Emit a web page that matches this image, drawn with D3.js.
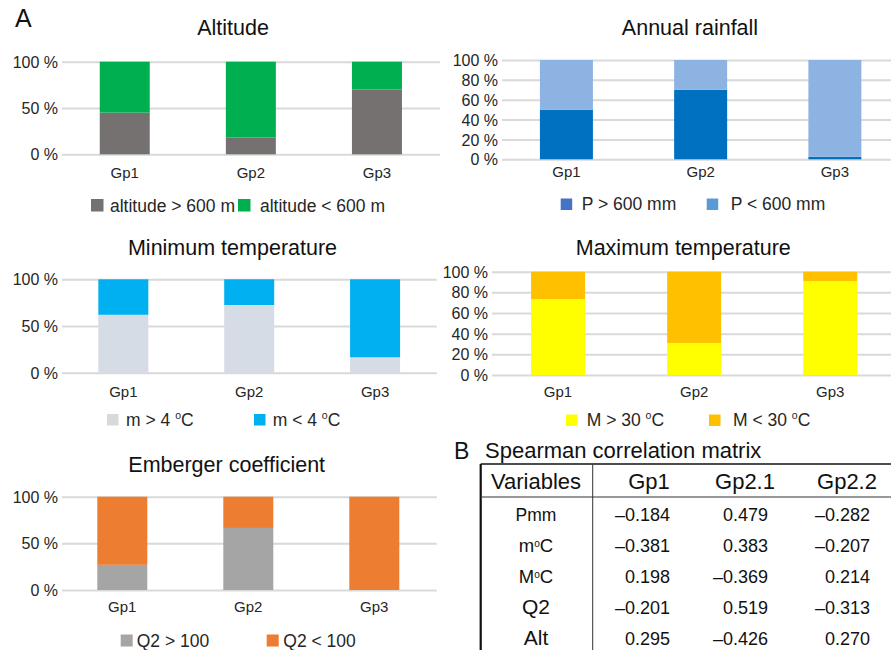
<!DOCTYPE html>
<html>
<head>
<meta charset="utf-8">
<script src="https://cdn.jsdelivr.net/npm/d3@7/dist/d3.min.js"></script>
<style>
  html, body { margin: 0; padding: 0; background: #fff; }
  svg { display: block; font-family: "Liberation Sans", Arial, sans-serif; }
</style>
</head>
<body>
<svg id="fig" width="891" height="650"></svg>
<script>
// ---- data ----
const groups = ["Gp1", "Gp2", "Gp3"];

const altitudeAbove = [45, 18, 70];
const altitudeBelow = [55, 82, 30];

const rainAbove = [50, 70, 2.5];
const rainBelow = [50, 30, 97.5];

const minTempAbove = [62, 72.5, 16.5];
const minTempBelow = [38, 27.5, 83.5];

const maxTempAbove = [73.5, 31, 91];
const maxTempBelow = [26.5, 69, 9];

const embergerAbove = [27, 66.5, 0];
const embergerBelow = [73, 33.5, 100];

const coarseTicks = [0, 50, 100];
const fineTicks = [0, 20, 40, 60, 80, 100];

const tableHeader = ["Variables", "Gp1", "Gp2.1", "Gp2.2"];
const tableVariables = ["Pmm", "m°C", "M°C", "Q2", "Alt"];
const corrGp1 = [-0.184, -0.381, 0.198, -0.201, 0.295];
const corrGp21 = [0.479, 0.383, -0.369, 0.519, -0.426];
const corrGp22 = [-0.282, -0.207, 0.214, -0.313, 0.270];

// ---- panel definitions (layout + series) ----
const panels = [
  {
    title: "Altitude", titleX: 233, titleY: 35,
    x0: 61.7, x1: 440, gridEnd: 440, y0: 154.3, y100: 61.7, barW: 50,
    ticks: coarseTicks, labelRight: 58, catY: 178,
    series: [
      { name: "altitude > 600 m", values: altitudeAbove, color: "#767171", legend: "#767171" },
      { name: "altitude < 600 m", values: altitudeBelow, color: "#00b050", legend: "#00b050" }
    ],
    legendY: 211.5, legendX: [91, 238], legendTextX: [110, 260], sq: 12.5
  },
  {
    title: "Annual rainfall", titleX: 690, titleY: 35,
    x0: 499.3, x1: 902, gridEnd: 891, y0: 159.3, y100: 60, barW: 53,
    ticks: fineTicks, labelRight: 498, catY: 177,
    series: [
      { name: "P > 600 mm", values: rainAbove, color: "#0070c0", legend: "#4472c4" },
      { name: "P < 600 mm", values: rainBelow, color: "#8db3e2", legend: "#5b9bd5" }
    ],
    legendY: 210, legendX: [560.7, 706.7], legendTextX: [581.7, 730.7], sq: 11.5
  },
  {
    title: "Minimum temperature", titleX: 232.5, titleY: 255,
    x0: 60.4, x1: 438, gridEnd: 436.7, y0: 372.7, y100: 279.3, barW: 50,
    ticks: coarseTicks, labelRight: 58, catY: 396.5,
    series: [
      { name: ["m > 4 ", "o", "C"], values: minTempAbove, color: "#d6dce5", legend: "#d9d9d9" },
      { name: ["m < 4 ", "o", "C"], values: minTempBelow, color: "#00b0f0", legend: "#00b0f0" }
    ],
    legendY: 425.5, legendX: [107, 254], legendTextX: [126, 272.7], sq: 11.5
  },
  {
    title: "Maximum temperature", titleX: 683.3, titleY: 255,
    x0: 490, x1: 898.3, gridEnd: 891, y0: 375, y100: 271.7, barW: 54,
    ticks: fineTicks, labelRight: 488, catY: 396.5,
    series: [
      { name: ["M > 30 ", "o", "C"], values: maxTempAbove, color: "#ffff00", legend: "#ffff00" },
      { name: ["M < 30 ", "o", "C"], values: maxTempBelow, color: "#ffc000", legend: "#ffc000" }
    ],
    legendY: 426, legendX: [566, 709], legendTextX: [586.7, 733], sq: 11.5
  },
  {
    title: "Emberger coefficient", titleX: 226.7, titleY: 471.7,
    x0: 59.3, x1: 437.3, gridEnd: 436.7, y0: 590, y100: 496.7, barW: 50,
    ticks: coarseTicks, labelRight: 58, catY: 611.5,
    series: [
      { name: "Q2 > 100", values: embergerAbove, color: "#a5a5a5", legend: "#a5a5a5" },
      { name: "Q2 < 100", values: embergerBelow, color: "#ed7d31", legend: "#ed7d31" }
    ],
    legendY: 646.5, legendX: [120.7, 266.7], legendTextX: [136.7, 283.3], sq: 12
  }
];

const svg = d3.select("#fig");
const textColor = "#262626";

// panel letter A
svg.append("text").attr("x", 15).attr("y", 27)
  .attr("font-size", 25).attr("fill", "#111").text("A");

function writeLabel(sel, label) {
  if (Array.isArray(label)) {
    sel.append("tspan").text(label[0]);
    sel.append("tspan").attr("font-size", "60%").attr("dy", -7).text(label[1]);
    sel.append("tspan").attr("dy", 7).text(label[2]);
  } else {
    sel.text(label);
  }
}

panels.forEach(p => {
  const g = svg.append("g");
  const x = d3.scalePoint().domain(groups).range([p.x0, p.x1]).padding(0.5);
  const y = d3.scaleLinear().domain([0, 100]).range([p.y0, p.y100]);

  // title
  g.append("text").attr("x", p.titleX).attr("y", p.titleY)
    .attr("text-anchor", "middle").attr("font-size", 21.5)
    .attr("fill", "#111").text(p.title);

  // gridlines + tick labels from the y axis
  const axis = d3.axisLeft(y).tickValues(p.ticks)
    .tickSize(-(p.gridEnd - (p.labelRight + 4)))
    .tickFormat(d => d + " %");
  const ag = g.append("g").attr("transform", `translate(${p.labelRight + 4},0)`).call(axis);
  ag.select(".domain").remove();
  ag.selectAll(".tick line").attr("stroke", "#d9d9d9").attr("stroke-width", 2);
  ag.selectAll(".tick text").attr("x", -4).attr("dy", "0.35em")
    .attr("font-size", 16).attr("font-family", "Liberation Sans, Arial, sans-serif")
    .attr("fill", textColor);

  // stacked bars
  const rows = groups.map((grp, i) => {
    const o = { group: grp };
    p.series.forEach((s, k) => { o["s" + k] = s.values[i]; });
    return o;
  });
  const stack = d3.stack().keys(p.series.map((s, k) => "s" + k))(rows);
  stack.forEach((layer, k) => {
    g.append("g").selectAll("rect").data(layer).join("rect")
      .attr("x", d => x(d.data.group) - p.barW / 2)
      .attr("width", p.barW)
      .attr("y", d => y(d[1]))
      .attr("height", d => y(d[0]) - y(d[1]))
      .attr("fill", p.series[k].color);
  });

  // category labels
  g.selectAll("text.cat").data(groups).join("text").attr("class", "cat")
    .attr("x", d => x(d)).attr("y", p.catY)
    .attr("text-anchor", "middle").attr("font-size", 15)
    .attr("fill", textColor).text(d => d);

  // legend
  p.series.forEach((s, k) => {
    g.append("rect").attr("x", p.legendX[k]).attr("y", p.legendY - p.sq)
      .attr("width", p.sq).attr("height", p.sq).attr("fill", s.legend);
    const t = g.append("text").attr("x", p.legendTextX[k]).attr("y", p.legendY)
      .attr("font-size", 17.5).attr("fill", textColor);
    writeLabel(t, s.name);
  });
});

// ---- B: correlation table ----
svg.append("text").attr("x", 454).attr("y", 459)
  .attr("font-size", 23).attr("fill", "#111").text("B");
svg.append("text").attr("x", 485).attr("y", 458)
  .attr("font-size", 22).attr("fill", "#111").text("Spearman correlation matrix");

const tableLeft = 480.7, tableTop = 464, tableRight = 891, headerBottom = 497, dividerX = 592.7;
const tg = svg.append("g");
tg.append("line").attr("x1", tableLeft).attr("x2", tableLeft).attr("y1", tableTop).attr("y2", 650)
  .attr("stroke", "#111").attr("stroke-width", 2.2);
tg.append("line").attr("x1", tableLeft).attr("x2", tableRight).attr("y1", tableTop).attr("y2", tableTop)
  .attr("stroke", "#111").attr("stroke-width", 1.6);
tg.append("line").attr("x1", tableLeft).attr("x2", tableRight).attr("y1", headerBottom).attr("y2", headerBottom)
  .attr("stroke", "#333").attr("stroke-width", 1);
tg.append("line").attr("x1", dividerX).attr("x2", dividerX).attr("y1", tableTop).attr("y2", 650)
  .attr("stroke", "#333").attr("stroke-width", 1);

// header
const headerX = [536, 649, 745, 847];
tg.selectAll("text.hdr").data(tableHeader).join("text").attr("class", "hdr")
  .attr("x", (d, i) => headerX[i]).attr("y", 489)
  .attr("text-anchor", "middle").attr("font-size", 22).attr("fill", "#111").text(d => d);

// rows
const rowY = d3.scalePoint().domain(tableVariables).range([521, 644.5]);
const labelSize = { "Pmm": 17.5, "m°C": 18.5, "M°C": 18.5, "Q2": 21, "Alt": 21 };
tableVariables.forEach(v => {
  const t = tg.append("text").attr("x", 536).attr("y", rowY(v))
    .attr("text-anchor", "middle").attr("font-size", labelSize[v]).attr("fill", "#111");
  if (v.includes("°")) {
    t.append("tspan").text(v[0]);
    t.append("tspan").attr("font-size", "55%").attr("dy", -5).text("o");
    t.append("tspan").attr("dy", 5).text("C");
  } else {
    t.text(v);
  }
});

const fmt = d => (d < 0 ? "\u2013" : "") + d3.format(".3f")(Math.abs(d));
const numRight = [670, 768, 870];
[corrGp1, corrGp21, corrGp22].forEach((col, c) => {
  tg.selectAll(null).data(col).join("text")
    .attr("x", numRight[c]).attr("y", (d, i) => rowY(tableVariables[i]))
    .attr("text-anchor", "end").attr("font-size", 18).attr("fill", "#111")
    .text(fmt);
});
</script>
</body>
</html>
